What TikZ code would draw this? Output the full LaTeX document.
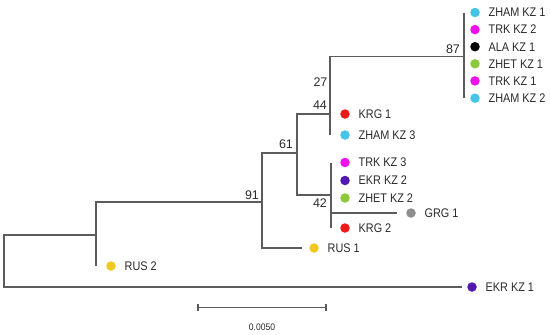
\documentclass[tikz,border=0pt]{standalone}
\usepackage{fontspec}
\setmainfont{Liberation Sans}
\definecolor{linec}{HTML}{5C5C5C}
\definecolor{txt}{HTML}{2A2A2A}
\definecolor{cZham}{HTML}{45C4EA}
\definecolor{cTrk}{HTML}{F010EC}
\definecolor{cAla}{HTML}{050505}
\definecolor{cZhet}{HTML}{8CC83C}
\definecolor{cKrg}{HTML}{EE1A1A}
\definecolor{cEkr}{HTML}{5218B0}
\definecolor{cGrg}{HTML}{8E8E8E}
\definecolor{cRus}{HTML}{F0C820}
\newcommand\myleaf[6]{%
  \coordinate (#1) at (#2,#3);
  \node[dot=#5] (#1d) at (#4,#3) {};
  \node[lbl] (#1t) at ([xshift=8.5pt]#1d.east) {\scalebox{0.87}[1]{#6}};}
\begin{document}
\begin{tikzpicture}[x=1pt,y=-1pt,
  br/.style={draw=linec, line width=1.3pt},
  dot/.style={circle, inner sep=0pt, minimum size=9.5pt, fill=#1, draw=none},
  lbl/.style={anchor=west, inner sep=0pt, font=\fontsize{12.5}{14}\selectfont, text=txt},
  boot/.style={inner sep=0pt, font=\fontsize{12.5}{14}\selectfont, text=txt}]
\useasboundingbox (0,0) rectangle (550,335);
% internal nodes
\coordinate (r) at (4,261);
\coordinate (nA) at (96,235);
\coordinate (n91) at (262,202);
\coordinate (n61) at (297,153);
\coordinate (n27) at (330,114);
\coordinate (n42) at (331,195);
\coordinate (n87) at (464,56.7);
\coordinate (n44a) at (330,88);
\coordinate (n44b) at (330,121);
% leaves
\myleaf{lZham1}{464}{12.5}{475}{cZham}{ZHAM KZ 1}
\myleaf{lTrk2}{464}{29.6}{475}{cTrk}{TRK KZ 2}
\myleaf{lAla1}{464}{46.7}{475}{cAla}{ALA KZ 1}
\myleaf{lZhet1}{464}{63.8}{475}{cZhet}{ZHET KZ 1}
\myleaf{lTrk1}{464}{80.9}{475}{cTrk}{TRK KZ 1}
\myleaf{lZham2}{464}{98.2}{475}{cZham}{ZHAM KZ 2}
\myleaf{lKrg1}{330}{114}{345}{cKrg}{KRG 1}
\myleaf{lZham3}{330}{135}{345}{cZham}{ZHAM KZ 3}
\myleaf{lTrk3}{331}{162.5}{345}{cTrk}{TRK KZ 3}
\myleaf{lEkr2}{331}{180.5}{345}{cEkr}{EKR KZ 2}
\myleaf{lZhet2}{331}{198}{345}{cZhet}{ZHET KZ 2}
\myleaf{lGrg1}{397}{213}{411}{cGrg}{GRG 1}
\myleaf{lKrg2}{331}{228}{345}{cKrg}{KRG 2}
\myleaf{lRus1}{302}{248}{314}{cRus}{RUS 1}
\myleaf{lRus2}{96}{266}{111}{cRus}{RUS 2}
\myleaf{lEkr1}{462}{287}{472}{cEkr}{EKR KZ 1}
% branches
\draw[br] (r) |- (nA);
\draw[br] (r) |- (lEkr1);
\draw[br] (nA) |- (n91);
\draw[br] (nA) |- (lRus2);
\draw[br] (n91) |- (n61);
\draw[br] (n91) |- (lRus1);
\draw[br] (n61) |- (n27);
\draw[br] (n61) |- (n42);
\draw[br] (n27) |- (n87);
\draw[br] (n27) |- (lKrg1);
\draw[br] (n27) |- (lZham3);
\draw[br, line width=2.4pt] (n44a) -- (n44b);
\foreach \l in {lZham1,lTrk2,lAla1,lZhet1,lTrk1,lZham2}
  \draw[br] (n87) |- (\l);
\foreach \l in {lTrk3,lEkr2,lZhet2,lGrg1,lKrg2}
  \draw[br] (n42) |- (\l);
% bootstrap values
\node[boot] (b87) at (453,49.5) {87};
\node[boot] (b27) at (320.5,82.5) {27};
\node[boot] (b44) at (320,105) {44};
\node[boot] (b61) at (286,144.5) {61};
\node[boot] (b91) at (252,195) {91};
\node[boot] (b42) at (320,203.5) {42};
% scale bar
\coordinate (sL) at (198,307.5);
\coordinate (sR) at (326,307.5);
\draw[br, line width=1.1pt] (sL) -- (sR);
\draw[br, line width=1.1pt] ([yshift=-3.5pt]sL) -- ([yshift=3.5pt]sL);
\draw[br, line width=1.1pt] ([yshift=-3.5pt]sR) -- ([yshift=3.5pt]sR);
\node[inner sep=0pt, font=\fontsize{9.5}{11}\selectfont, text=txt] (sLab) at (262,327) {\scalebox{0.9}[1]{0.0050}};
\end{tikzpicture}
\end{document}
